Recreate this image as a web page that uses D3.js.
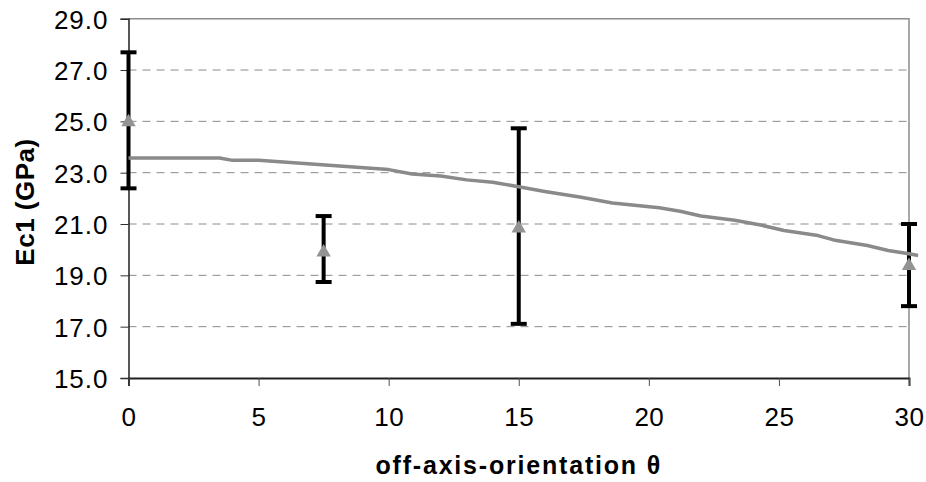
<!DOCTYPE html>
<html>
<head>
<meta charset="utf-8">
<script src="https://cdn.jsdelivr.net/npm/d3@7"></script>
<style>
  body { margin: 0; background: #fff; }
  svg { display: block; }
  text { font-family: "Liberation Sans", Arial, sans-serif; fill: #000; }
</style>
</head>
<body>
<svg id="chart" width="926" height="482"></svg>
<script>
// tick labels
const xTicks = [0, 5, 10, 15, 20, 25, 30];
const yTicks = [15, 17, 19, 21, 23, 25, 27, 29];

// model curve (grey line)
const modelTheta = [0, 3.5, 4.0, 5.0, 10.0, 10.9, 12.0, 13.0, 14.0, 15.0, 16.0, 17.4, 18.6, 20.4, 21.2, 22.0, 23.3, 24.3, 25.2, 26.5, 27.1, 28.4, 29.2, 30.0, 30.35];
const modelEc1   = [23.57, 23.57, 23.48, 23.48, 23.12, 22.95, 22.87, 22.72, 22.63, 22.45, 22.27, 22.04, 21.82, 21.63, 21.50, 21.31, 21.15, 20.96, 20.75, 20.55, 20.38, 20.16, 19.97, 19.84, 19.77];

// measurements with error bars
const expTheta = [0, 7.5, 15, 30];
const expMean  = [25.05, 19.98, 20.91, 19.45];
const expLow   = [22.39, 18.74, 17.11, 17.80];
const expHigh  = [27.69, 21.31, 24.73, 21.00];

const margin = {top: 18.7, right: 17, bottom: 104, left: 128.5};
const width = 926 - margin.left - margin.right,
      height = 482 - margin.top - margin.bottom;

const svg = d3.select("#chart")
  .append("g")
  .attr("transform", "translate(" + margin.left + "," + margin.top + ")");

const x = d3.scaleLinear().domain([0, 30]).range([0, width]);
const y = d3.scaleLinear().domain([15, 29]).range([height, 0]);

// dashed gridlines
svg.append("g")
  .selectAll("line")
  .data(yTicks.filter(d => d > 15 && d < 29))
  .join("line")
  .attr("x1", 0).attr("x2", width)
  .attr("y1", d => y(d)).attr("y2", d => y(d))
  .attr("stroke", "#8c8c8c")
  .attr("stroke-width", 1)
  .attr("stroke-dasharray", "8,6");

// top and right frame
svg.append("path")
  .attr("d", "M0," + y(29) + "H" + x(30) + "V" + y(15))
  .attr("fill", "none")
  .attr("stroke", "#8c8c8c")
  .attr("stroke-width", 1.5);

// Y axis
const yAxis = svg.append("g")
  .call(d3.axisLeft(y).tickValues(yTicks).tickFormat(d3.format(".1f")).tickSize(8).tickPadding(12));
yAxis.select(".domain").attr("stroke", "#202020").attr("stroke-width", 1.5);
yAxis.selectAll(".tick line").attr("stroke", "#303030");
yAxis.selectAll(".tick text")
  .attr("font-size", 26)
  .attr("letter-spacing", "1px")
  .attr("dy", "0.36em")
  .style("font-family", "'Liberation Sans', Arial, sans-serif");

// X axis
const xAxis = svg.append("g")
  .attr("transform", "translate(0," + height + ")")
  .call(d3.axisBottom(x).tickValues(xTicks).tickSize(8).tickPadding(22));
xAxis.select(".domain").attr("stroke", "#202020").attr("stroke-width", 2);
xAxis.selectAll(".tick line").attr("stroke", "#505050");
xAxis.selectAll(".tick text")
  .attr("font-size", 26)
  .attr("letter-spacing", "0.5px")
  .style("font-family", "'Liberation Sans', Arial, sans-serif");

// error bars
const bars = svg.append("g");
const capW = 8;
expTheta.forEach((t, i) => {
  bars.append("line")
    .attr("x1", x(t)).attr("x2", x(t))
    .attr("y1", y(expLow[i])).attr("y2", y(expHigh[i]))
    .attr("stroke", "#000").attr("stroke-width", 4);
  [expLow[i], expHigh[i]].forEach(v => {
    bars.append("line")
      .attr("x1", x(t) - capW).attr("x2", x(t) + capW)
      .attr("y1", y(v)).attr("y2", y(v))
      .attr("stroke", "#000").attr("stroke-width", 4);
  });
});

// model line
const line = d3.line()
  .x((d, i) => x(modelTheta[i]))
  .y(d => y(d));
svg.append("path")
  .datum(modelEc1)
  .attr("d", line)
  .attr("fill", "none")
  .attr("stroke", "#8a8a8a")
  .attr("stroke-width", 3.5)
  .attr("stroke-linejoin", "round");

// triangle markers
const triSize = 90;
const triR = Math.sqrt(triSize / (3 * Math.sqrt(3)));
svg.append("g")
  .selectAll("path")
  .data(expMean)
  .join("path")
  .attr("d", d3.symbol(d3.symbolTriangle, triSize))
  .attr("transform", (d, i) => "translate(" + x(expTheta[i]) + "," + (y(d) + triR / 2) + ")")
  .attr("fill", "#939393");

// axis titles
svg.append("text")
  .attr("x", width / 2)
  .attr("y", height + 96)
  .attr("text-anchor", "middle")
  .attr("font-size", 25)
  .attr("font-weight", "bold")
  .attr("letter-spacing", "1.8px")
  .text("off-axis-orientation θ");

svg.append("text")
  .attr("transform", "translate(" + (34 - margin.left) + "," + (202 - margin.top) + ") rotate(-90)")
  .attr("text-anchor", "middle")
  .attr("font-size", 26)
  .attr("font-weight", "bold")
  .attr("letter-spacing", "0.5px")
  .text("Ec1 (GPa)");
</script>
</body>
</html>
